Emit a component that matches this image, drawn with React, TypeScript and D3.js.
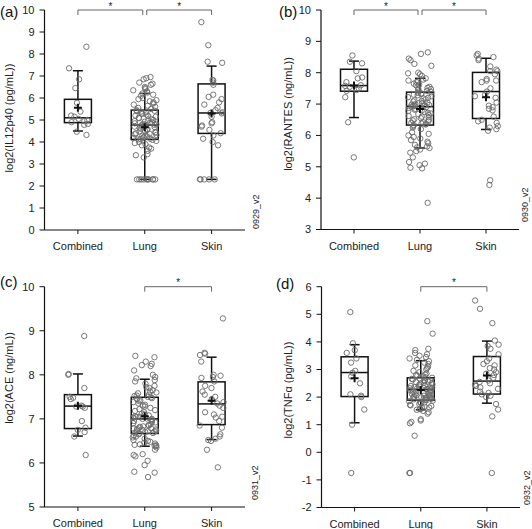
import React from "react";
import * as d3 from "d3";

const categories = ["Combined", "Lung", "Skin"];

// (a) log2(IL12p40 (pg/mL))
const aCombined = [8.33, 7.35, 6.85, 6.45, 5.78, 5.38, 5.2, 5.15, 5.05, 5.0, 4.95, 4.9, 4.82, 4.78, 4.47, 4.32];
const aLung = [
  6.95, 6.9, 6.85, 6.7, 6.65, 6.6, 6.5, 6.45, 6.4, 6.35, 6.3, 6.25, 6.2, 6.15, 6.1, 6.0, 5.95, 5.9, 5.85, 5.8, 5.75, 5.7, 5.65, 5.6, 5.55, 5.5,
  5.45, 5.42, 5.4, 5.38, 5.35, 5.3, 5.28, 5.25, 5.2, 5.18, 5.15, 5.1, 5.08, 5.05, 5.0, 4.98, 4.95, 4.92, 4.9, 4.88, 4.85, 4.82, 4.8, 4.78, 4.77,
  4.75, 4.72, 4.7, 4.68, 4.65, 4.6, 4.58, 4.55, 4.5, 4.48, 4.45, 4.42, 4.4, 4.38, 4.35, 4.32, 4.3, 4.28, 4.25, 4.22, 4.2, 4.18, 4.15, 4.13, 4.12,
  4.1, 4.05, 4.0, 3.95, 3.9, 3.85, 3.75, 3.7, 3.6, 3.45, 3.4, 3.3, 2.3, 2.3, 2.3, 2.3, 2.3, 2.3, 2.3, 2.3, 2.3, 2.3,
];
const aSkin = [9.45, 8.4, 7.65, 7.6, 6.82, 6.8, 6.7, 6.6, 6.15, 6.05, 5.95, 5.8, 5.7, 5.55, 5.45, 5.35, 5.32, 5.3, 5.15, 4.9, 4.85, 4.75, 4.7, 4.55, 4.4, 4.3, 4.15, 4.0, 3.85, 2.3, 2.3, 2.3, 2.3, 2.3];
// box stats per category: [whiskerLow, q1, median, q3, whiskerHigh, mean]
const aStats = [
  [4.5, 4.88, 5.1, 5.94, 7.24, 5.56],
  [2.3, 4.12, 4.77, 5.45, 6.21, 4.67],
  [2.3, 4.39, 5.32, 6.64, 7.45, 5.3],
];
const aSig = [["Combined", "Lung"], ["Lung", "Skin"]];

// (b) log2(RANTES (ng/mL))
const bCombined = [8.55, 8.35, 8.3, 8.05, 7.85, 7.82, 7.7, 7.6, 7.58, 7.55, 7.5, 7.45, 7.42, 7.22, 6.42, 5.3];
const bLung = [
  8.65, 8.6, 8.45, 8.4, 8.28, 8.22, 8.0, 7.98, 7.95, 7.9,
  7.82, 7.78, 7.75, 7.72, 7.7, 7.65, 7.62, 7.6, 7.55, 7.52, 7.5, 7.48, 7.45, 7.42, 7.4,
  7.38, 7.36, 7.34, 7.32, 7.3, 7.28, 7.25, 7.22, 7.2, 7.18, 7.15, 7.12, 7.1, 7.08, 7.05, 7.03, 7.02, 7.0, 6.98, 6.97, 6.96, 6.95, 6.94, 6.93, 6.92,
  6.9, 6.88, 6.85, 6.82, 6.8, 6.78, 6.75, 6.72, 6.7, 6.68, 6.65, 6.62, 6.6, 6.58, 6.55, 6.52, 6.5, 6.48, 6.45, 6.42, 6.4, 6.38, 6.36, 6.35, 6.33,
  6.3, 6.25, 6.2, 6.1, 6.05, 6.0, 5.95, 5.9, 5.85, 5.8, 5.75, 5.7, 5.65, 5.62, 5.6,
  5.55, 5.5, 5.45, 5.3, 5.15, 5.1, 5.05, 4.97, 4.95, 3.85,
];
const bSkin = [8.6, 8.55, 8.5, 8.45, 8.4, 8.2, 8.1, 8.05, 8.05, 7.95, 7.8, 7.75, 7.75, 7.7, 7.5, 7.4, 7.3, 7.25, 7.2, 7.05, 6.95, 6.9, 6.85, 6.8, 6.6, 6.5, 6.45, 6.4, 6.3, 6.25, 6.2, 6.15, 4.57, 4.42];
const bStats = [
  [6.57, 7.41, 7.59, 8.11, 8.37, 7.59],
  [5.6, 6.33, 6.92, 7.38, 7.82, 6.84],
  [6.19, 6.54, 7.4, 8.01, 8.46, 7.22],
];
const bSig = [["Combined", "Lung"], ["Lung", "Skin"]];

// (c) log2(ACE (ng/mL))
const cCombined = [8.88, 8.02, 8.0, 7.7, 7.5, 7.48, 7.45, 7.3, 7.28, 7.28, 7.25, 6.95, 6.8, 6.75, 6.7, 6.6, 6.18];
const cLung = [
  8.43, 8.4, 8.3, 8.25, 8.22, 8.2, 8.1, 8.0, 7.95, 7.92,
  7.88, 7.85, 7.8, 7.75, 7.72, 7.7, 7.65, 7.62, 7.6, 7.58, 7.55, 7.53, 7.52, 7.5, 7.49,
  7.47, 7.45, 7.42, 7.4, 7.38, 7.35, 7.32, 7.3, 7.28, 7.25, 7.22, 7.2, 7.18, 7.15, 7.12, 7.1, 7.08, 7.06, 7.05, 7.04, 7.03, 7.02, 7.01, 7.0, 7.0,
  6.98, 6.96, 6.95, 6.93, 6.92, 6.9, 6.88, 6.86, 6.85, 6.83, 6.82, 6.8, 6.79, 6.78, 6.77, 6.76, 6.75, 6.74, 6.73, 6.72, 6.71, 6.7, 6.69, 6.68, 6.67,
  6.65, 6.62, 6.6, 6.58, 6.55, 6.52, 6.5, 6.48, 6.46, 6.44, 6.42, 6.41, 6.4, 6.39, 6.38,
  6.35, 6.3, 6.2, 6.18, 6.15, 6.05, 5.95, 5.8, 5.78, 5.68,
];
const cSkin = [9.28, 8.5, 8.48, 8.45, 8.3, 8.0, 7.98, 7.95, 7.93, 7.85, 7.75, 7.7, 7.62, 7.55, 7.5, 7.45, 7.38, 7.35, 7.3, 7.25, 7.15, 7.1, 7.05, 7.03, 6.95, 6.85, 6.8, 6.65, 6.6, 6.55, 6.52, 6.5, 6.3, 5.9];
const cStats = [
  [6.61, 6.78, 7.29, 7.55, 8.02, 7.3],
  [6.38, 6.67, 7.0, 7.49, 7.9, 7.06],
  [6.53, 6.87, 7.34, 7.84, 8.4, 7.41],
];
const cSig = [["Lung", "Skin"]];

// (d) log2(TNFα (pg/mL))
const dCombined = [5.08, 3.95, 3.7, 3.6, 3.4, 3.25, 2.95, 2.88, 2.75, 2.5, 2.1, 2.05, 2.0, 1.55, 1.0, -0.75];
const dLung = [
  4.75, 4.3, 3.75, 3.7, 3.6, 3.55, 3.5, 3.45, 3.4, 3.35,
  3.3, 3.25, 3.2, 3.15, 3.1, 3.05, 3.0, 2.95, 2.9, 2.85, 2.82, 2.8, 2.78, 2.75, 2.72,
  2.7, 2.68, 2.66, 2.64, 2.62, 2.6, 2.58, 2.56, 2.54, 2.52, 2.5, 2.48, 2.46, 2.44, 2.42, 2.4, 2.38, 2.36, 2.35, 2.34, 2.33, 2.32, 2.31, 2.3, 2.28,
  2.27, 2.25, 2.23, 2.21, 2.2, 2.18, 2.16, 2.14, 2.12, 2.1, 2.08, 2.06, 2.05, 2.04, 2.02, 2.0, 1.99, 1.98, 1.96, 1.95, 1.94, 1.93, 1.92, 1.9, 1.89,
  1.87, 1.85, 1.82, 1.8, 1.78, 1.75, 1.72, 1.7, 1.68, 1.65, 1.62, 1.6, 1.58, 1.56, 1.54,
  1.5, 1.45, 1.4, 1.2, 1.15, 1.1, 1.05, 0.6, -0.75, -0.75,
];
const dSkin = [5.5, 5.2, 4.68, 4.05, 3.9, 3.85, 3.75, 3.55, 3.4, 3.3, 3.2, 3.15, 3.05, 3.0, 2.9, 2.85, 2.8, 2.7, 2.6, 2.55, 2.5, 2.45, 2.4, 2.35, 2.3, 2.2, 2.15, 2.1, 2.05, 2.0, 1.75, 1.55, 1.3, -0.75];
const dStats = [
  [1.07, 2.02, 2.89, 3.46, 3.9, 2.68],
  [1.54, 1.89, 2.28, 2.7, 3.32, 2.26],
  [1.78, 2.11, 2.58, 3.47, 4.03, 2.78],
];
const dSig = [["Lung", "Skin"]];

const FONT = "'Liberation Sans', Arial, Helvetica, sans-serif";

type PanelDef = {
  tag: string;
  yLabel: string;
  version: string;
  domain: [number, number];
  groups: number[][];
  stats: number[][];
  sig: string[][];
  x0: number; x1: number; yTop: number; yBot: number;
  tagX: number; tagY: number;
  labX: number; labY: number;
  verX: number; verY: number;
};

const panels: PanelDef[] = [
  { tag: "(a)", yLabel: "log2(IL12p40 (pg/mL))", version: "0929_v2", domain: [0, 10],
    groups: [aCombined, aLung, aSkin], stats: aStats, sig: aSig,
    x0: 44.5, x1: 245, yTop: 10, yBot: 230, tagX: 0, tagY: 17, labX: 12.5, labY: 118, verX: 259, verY: 229 },
  { tag: "(b)", yLabel: "log2(RANTES (ng/mL))", version: "0930_v2", domain: [3, 10],
    groups: [bCombined, bLung, bSkin], stats: bStats, sig: bSig,
    x0: 321, x1: 519, yTop: 10, yBot: 229.5, tagX: 279, tagY: 17, labX: 291.5, labY: 114, verX: 528, verY: 222 },
  { tag: "(c)", yLabel: "log2(ACE (ng/mL))", version: "0931_v2", domain: [5, 10],
    groups: [cCombined, cLung, cSkin], stats: cStats, sig: cSig,
    x0: 44.5, x1: 245, yTop: 286.7, yBot: 507, tagX: 0, tagY: 287, labX: 12.5, labY: 378, verX: 258, verY: 500 },
  { tag: "(d)", yLabel: "log2(TNFα (pg/mL))", version: "0932_v2", domain: [-2, 6],
    groups: [dCombined, dLung, dSkin], stats: dStats, sig: dSig,
    x0: 321.5, x1: 520, yTop: 286.7, yBot: 507.5, tagX: 276, tagY: 289, labX: 291.5, labY: 390, verX: 530, verY: 505 },
];

// deterministic horizontal scatter of points within the box width (layout only)
const spread = (i: number, g: number) => {
  const s = Math.sin((i + 1) * 12.9898 + g * 78.233) * 43758.5453;
  return (s - Math.floor(s)) * 2 - 1;
};

function Panel({ p, pi }: { p: PanelDef; pi: number }) {
  const y = d3.scaleLinear().domain(p.domain).range([p.yBot, p.yTop]);
  const x = d3.scalePoint<string>().domain(categories).range([p.x0, p.x1]).padding(0.5);
  const ticks = d3.range(p.domain[0], p.domain[1] + 0.001, 1);
  const boxW = 27;
  const capW = 10;
  return (
    <g fontFamily={FONT}>
      <text x={p.tagX} y={p.tagY} fontSize={15} fill="#111">{p.tag}</text>
      <text transform={`translate(${p.labX},${p.labY}) rotate(-90)`} textAnchor="middle" fontSize={11} fill="#222">{p.yLabel}</text>
      <text transform={`translate(${p.verX},${p.verY}) rotate(-90)`} textAnchor="start" fontSize={9} fill="#222">{p.version}</text>
      {/* axes */}
      <line x1={p.x0} x2={p.x0} y1={p.yTop} y2={p.yBot} stroke="#111" strokeWidth={1.2} />
      <line x1={p.x0} x2={p.x1} y1={p.yBot} y2={p.yBot} stroke="#111" strokeWidth={1.2} />
      {ticks.map((t) => (
        <g key={t}>
          <line x1={p.x0 - 5} x2={p.x0} y1={y(t)} y2={y(t)} stroke="#111" strokeWidth={1} />
          <text x={p.x0 - 10} y={y(t)} dy="0.35em" textAnchor="end" fontSize={11} fill="#222">{t}</text>
        </g>
      ))}
      {categories.map((c) => (
        <g key={c}>
          <line x1={x(c)!} x2={x(c)!} y1={p.yBot} y2={p.yBot + 4} stroke="#111" strokeWidth={1} />
          <text x={x(c)!} y={p.yBot + 20} textAnchor="middle" fontSize={11} fill="#222">{c}</text>
        </g>
      ))}
      {/* significance brackets */}
      {p.sig.map(([a, b], k) => {
        const xa = x(a)! + (a === "Lung" && p.sig.length > 1 ? 2 : 0);
        const xb = x(b)! - (b === "Lung" ? 2 : 0);
        return (
          <g key={k}>
            <path d={`M${xa},${p.yTop + 5}V${p.yTop}H${xb}V${p.yTop + 5}`} fill="none" stroke="#666" strokeWidth={1} />
            <text x={(xa + xb) / 2} y={p.yTop - 0.5} textAnchor="middle" fontSize={10} fill="#222">*</text>
          </g>
        );
      })}
      {/* boxes */}
      {categories.map((c, ci) => {
        const [wl, q1, md, q3, wh] = p.stats[ci];
        const cx = x(c)!;
        return (
          <g key={c} stroke="#111" strokeWidth={1.5} fill="none">
            <rect x={cx - boxW / 2} y={y(q3)} width={boxW} height={y(q1) - y(q3)} />
            <line x1={cx - boxW / 2} x2={cx + boxW / 2} y1={y(md)} y2={y(md)} />
            <line x1={cx} x2={cx} y1={y(q3)} y2={y(wh)} />
            <line x1={cx} x2={cx} y1={y(q1)} y2={y(wl)} />
            <line x1={cx - capW / 2} x2={cx + capW / 2} y1={y(wh)} y2={y(wh)} />
            <line x1={cx - capW / 2} x2={cx + capW / 2} y1={y(wl)} y2={y(wl)} />
          </g>
        );
      })}
      {/* points */}
      {categories.map((c, ci) => {
        const cx = x(c)!;
        const w = ci === 0 ? 10 : 12;
        return (
          <g key={c} fill="none" stroke="#6a6a6a" strokeWidth={0.9}>
            {p.groups[ci].map((v, i) => (
              <circle key={i} cx={cx + spread(i, pi * 3 + ci) * w} cy={y(v)} r={2.7} />
            ))}
          </g>
        );
      })}
      {/* means */}
      {categories.map((c, ci) => {
        const m = p.stats[ci][5];
        const cx = x(c)!;
        return (
          <path key={c} d={`M${cx - 4},${y(m)}H${cx + 4}M${cx},${y(m) - 4}V${y(m) + 4}`} stroke="#111" strokeWidth={2} />
        );
      })}
    </g>
  );
}

export default function App() {
  return (
    <svg width={532} height={529} style={{ position: "absolute", left: 0, top: 0, background: "#fff" }}>
      <rect width={532} height={529} fill="#fff" />
      {panels.map((p, pi) => (
        <Panel key={p.tag} p={p} pi={pi} />
      ))}
    </svg>
  );
}
